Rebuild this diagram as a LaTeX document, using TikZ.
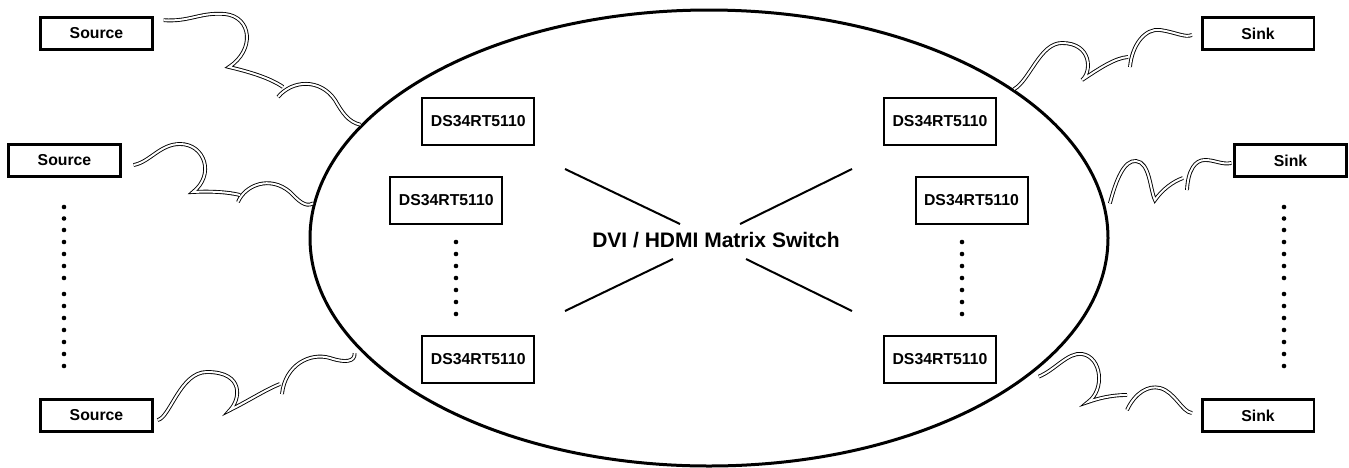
\documentclass[tikz,border=0pt]{standalone}
\usepackage{fontspec}
\setmainfont{Liberation Sans}
\usetikzlibrary{shapes.geometric}

\begin{document}
\begin{tikzpicture}[x=0.5pt,y=-0.5pt,
  endbox/.style={draw, line width=1.3pt, minimum width=55.8pt, minimum height=16pt, inner sep=0pt, font=\fontsize{7.9}{9}\selectfont\bfseries},
  chipbox/.style={draw, line width=1pt, minimum width=56pt, minimum height=23.5pt, inner sep=0pt, font=\fontsize{7.9}{9}\selectfont\bfseries},
  cable/.style={double, double distance=1pt, line width=0.45pt},
  xline/.style={line width=1pt}]
\useasboundingbox (0,0) rectangle (1349,467);
\node[ellipse, draw, line width=1.5pt, minimum width=399pt, minimum height=228pt, inner sep=0pt] (sw) at (709,238) {};
\node[font=\fontsize{10.5}{12}\selectfont\bfseries] (title) at (716,240) {DVI / HDMI Matrix Switch};
\draw[xline] (565,169) -- (680,224);
\draw[xline] (565,311) -- (673,259);
\draw[xline] (852,169) -- (740,224);
\draw[xline] (852,311) -- (746,259);
% sources and sinks
\node[endbox] (src1) at (96.5,33.5) {Source};
\node[endbox] (src2) at (64.5,160.5) {Source};
\node[endbox] (src3) at (96.5,415.5) {Source};
\node[endbox] (snk1) at (1258,33.5) {Sink};
\node[endbox] (snk2) at (1290.5,160.5) {Sink};
\node[endbox] (snk3) at (1258,415.5) {Sink};
\foreach \y in {207,218.5,230,242,254,266,278,294,306,318,330,342,354,366} {
  \fill (64,\y) circle [radius=1.15pt];
  \fill (1284,\y) circle [radius=1.15pt];
}
% chips
\node[chipbox] (in1) at (478.3,121) {DS34RT5110};
\node[chipbox] (in2) at (446.3,200) {DS34RT5110};
\node[chipbox] (in3) at (478.3,359) {DS34RT5110};
\node[chipbox] (out1) at (940,121) {DS34RT5110};
\node[chipbox] (out2) at (971.5,200) {DS34RT5110};
\node[chipbox] (out3) at (940,359) {DS34RT5110};
\foreach \y in {242,254,266,278,290,302,314} {
  \fill (456,\y) circle [radius=1.15pt];
  \fill (962,\y) circle [radius=1.15pt];
}
% cables
\draw[cable] ([shift={(10,4)}]src1.north east) .. controls (190,22) and (200,12) .. (225,14) .. controls (252,17) and (255,50) .. (229,67) .. controls (250,72) and (270,78) .. (283,87)
  (278,97) .. controls (292,80) and (320,78) .. (335,100) .. controls (342,112) and (348,122) .. (sw.162);
\draw[cable] ([shift={(12,4.5)}]src2.east) .. controls (150,162) and (160,144) .. (180,144) .. controls (205,144) and (215,175) .. (193,192) .. controls (210,191) and (228,192) .. (240,195)
  (238,202) .. controls (245,185) and (270,175) .. (290,192) .. controls (298,200) and (305,208) .. (sw.175.7);
\draw[cable] ([shift={(4,4.5)}]src3.east) .. controls (170,418) and (180,372) .. (207,372) .. controls (245,372) and (240,400) .. (230,410) .. controls (250,400) and (265,390) .. (280,384)
  (282,394) .. controls (285,365) and (310,352) .. (330,358) .. controls (345,363) and (355,362) .. ([shift={(-6,2)}]sw.198.8);
\draw[cable] (sw.26) .. controls (1030,80) and (1040,43) .. (1062,43) .. controls (1092,43) and (1092,72) .. (1082,80) .. controls (1100,68) and (1115,58) .. (1128,57)
  (1130,67) .. controls (1132,45) and (1145,28) .. (1160,30) .. controls (1175,32) and (1185,38) .. ([shift={(-9,1.5)}]snk1.west);
\draw[cable] ([shift={(5,0)}]sw.5) .. controls (1116,180) and (1124,160) .. (1136,161) .. controls (1150,162) and (1150,190) .. (1155,200) .. controls (1162,190) and (1172,182) .. (1183,178)
  (1187,190) .. controls (1188,170) and (1195,160) .. (1205,160) .. controls (1215,160) and (1222,165) .. ([shift={(-2,2.5)}]snk2.west);
\draw[cable] ([shift={(8,2)}]sw.-23) .. controls (1055,370) and (1068,352) .. (1082,354) .. controls (1102,357) and (1105,390) .. (1088,402) .. controls (1105,396) and (1118,395) .. (1127,395)
  (1127,410) .. controls (1135,393) and (1148,385) .. (1160,388) .. controls (1175,392) and (1182,412) .. ([shift={(-9,-2.5)}]snk3.west);
\end{tikzpicture}
\end{document}
